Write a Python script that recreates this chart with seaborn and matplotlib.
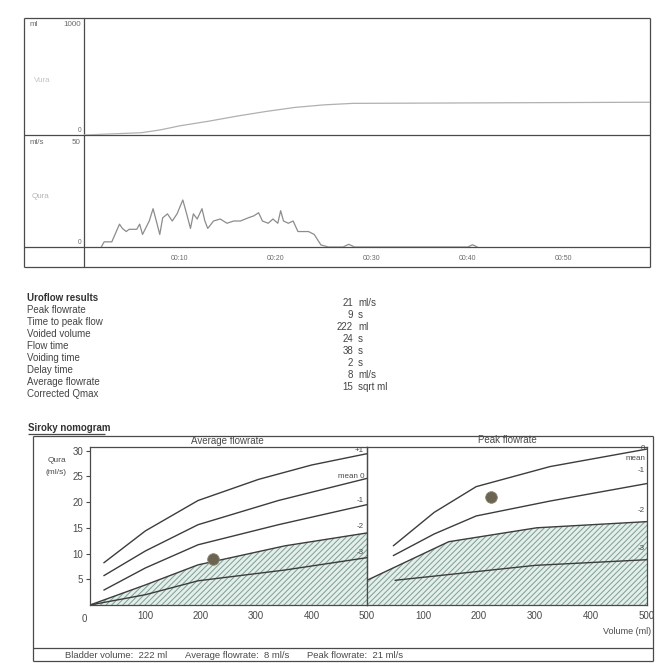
import numpy as np
import pandas as pd
import seaborn as sns
import matplotlib.pyplot as plt

sns.set_theme(style="white")
plt.rcParams['font.family'] = ['Liberation Sans', 'DejaVu Sans']

# uroflow trace, time (s) and flow (ml/s)
flow_t = [1.8, 2.1, 2.9, 3.7, 4.0, 4.4, 4.7, 5.5, 5.8, 6.1, 6.8, 7.2, 7.6, 7.9, 8.2, 8.7,
          9.2, 9.7, 10.3, 10.7, 11.1, 11.4, 11.8, 12.3, 12.6, 12.9, 13.5, 14.2, 14.9, 15.6,
          16.3, 17.1, 17.7, 18.2, 18.6, 19.2, 19.7, 20.2, 20.5, 20.8, 21.3, 21.8, 22.3,
          22.6, 23.4, 24.0, 24.7, 25.5, 27.0, 27.6, 28.2, 40.0, 40.5, 41.0]
flow_q = [0.0, 2.3, 2.3, 10.2, 8.3, 6.9, 7.9, 7.9, 10.2, 5.6, 11.6, 17.1, 10.6, 5.6, 13.0, 14.8,
          11.6, 14.8, 21.0, 14.8, 8.3, 14.8, 12.5, 17.1, 11.6, 8.3, 11.6, 12.5, 10.6, 11.6,
          11.6, 13.0, 13.9, 15.3, 11.6, 10.6, 12.5, 10.6, 16.2, 11.6, 10.6, 11.6, 6.9,
          6.9, 6.9, 5.6, 0.9, 0.0, 0.0, 1.2, 0.0, 0.0, 1.0, 0.0]

# voided volume trace (ml)
vol_t = [0, 6, 8, 10, 13, 16, 19, 22, 25, 28, 59]
vol_v = [0, 20, 45, 80, 120, 165, 205, 240, 262, 275, 285]

time_ticks = [10, 20, 30, 40, 50]
time_labels = ["00:10", "00:20", "00:30", "00:40", "00:50"]

result_names = ["Peak flowrate", "Time to peak flow", "Voided volume", "Flow time",
                "Voiding time", "Delay time", "Average flowrate", "Corrected Qmax"]
result_values = ["21", "9", "222", "24", "38", "2", "8", "15"]
result_units = ["ml/s", "s", "ml", "s", "s", "s", "ml/s", "sqrt ml"]

# Siroky nomogram - average flowrate panel
avg_vol_p1 = [25, 100, 195, 304, 400, 500]
avg_q_p1 = [8.2, 14.4, 20.3, 24.4, 27.2, 29.4]
avg_vol_0 = [25, 100, 195, 340, 500]
avg_q_0 = [5.7, 10.5, 15.6, 20.3, 24.6]
avg_vol_m1 = [25, 100, 195, 340, 500]
avg_q_m1 = [2.9, 7.2, 11.7, 15.6, 19.5]
avg_vol_m2 = [0, 100, 195, 352, 500]
avg_q_m2 = [0.0, 3.9, 7.8, 11.5, 14.0]
avg_vol_m3 = [0, 100, 195, 352, 500]
avg_q_m3 = [0.0, 2.0, 4.7, 6.8, 9.2]

# Siroky nomogram - peak flowrate panel
pk_vol_0 = [47, 120, 195, 327, 500]
pk_q_0 = [11.5, 18.0, 23.0, 26.9, 30.3]
pk_vol_m1 = [47, 120, 195, 327, 500]
pk_q_m1 = [9.6, 13.8, 17.3, 20.2, 23.6]
pk_vol_m2 = [0, 146, 303, 500]
pk_q_m2 = [4.8, 12.3, 15.0, 16.2]
pk_vol_m3 = [50, 300, 500]
pk_q_m3 = [4.8, 7.7, 8.8]

patient_vol = [222]
patient_avg = [9]
patient_peak = [21]

vol_ticks = [100, 200, 300, 400, 500]
q_ticks = [5, 10, 15, 20, 25, 30]

W = 663
fig = plt.figure(figsize=(6.63, 6.63), dpi=100)


def rect(l, t, r, b):
    return [l / W, 1 - b / W, (r - l) / W, (b - t) / W]


ink = "#4a4a4a"
soft = "#6a6a6a"


def overlay(z):
    ov = fig.add_axes([0, 0, 1, 1], zorder=z)
    ov.set_xlim(0, W)
    ov.set_ylim(W, 0)
    ov.axis("off")
    ov.patch.set_alpha(0)
    return ov


# page overlays in pixel coordinates, for frames and text
bg = overlay(-1)
fg = overlay(10)


def hline(y, x0, x1, c=ink, lw=0.9):
    bg.plot([x0, x1], [y, y], color=c, lw=lw, solid_capstyle="butt")


def vline(x, y0, y1, c=ink, lw=0.9):
    bg.plot([x, x], [y0, y1], color=c, lw=lw, solid_capstyle="butt")


# --- top recording frame
hline(18, 24, 650)
hline(267, 24, 650)
vline(24, 18, 267)
vline(650, 18, 267)
vline(84, 18, 267)
hline(135, 24, 650)
hline(247, 24, 650)

fs = 5.8
bg.text(30, 24, "ml", fontsize=fs, color=soft, va="center")
bg.text(81, 24, "1000", fontsize=fs, color=soft, va="center", ha="right")
bg.text(34, 80, "Vura", fontsize=fs, color="#c4c4c4", va="center")
bg.text(81, 131, "0", fontsize=fs - 1, color=soft, va="center", ha="right")
bg.text(30, 142, "ml/s", fontsize=fs, color=soft, va="center")
bg.text(81, 142, "50", fontsize=fs, color=soft, va="center", ha="right")
bg.text(32, 196, "Qura", fontsize=fs, color="#b4b4b4", va="center")
bg.text(81, 243, "0", fontsize=fs - 1, color=soft, va="center", ha="right")

ax_vol = fig.add_axes(rect(84, 20, 650, 135))
sns.lineplot(x=vol_t, y=vol_v, ax=ax_vol, color="#b0b0b0", lw=0.9)
ax_vol.set_xlim(0, 59)
ax_vol.set_ylim(0, 1000)
ax_vol.axis("off")

ax_flow = fig.add_axes(rect(84, 135, 650, 247))
sns.lineplot(x=flow_t, y=flow_q, ax=ax_flow, color="#8c8c8c", lw=0.9)
ax_flow.set_xlim(0, 59)
ax_flow.set_ylim(0, 50)
ax_flow.set_xticks(time_ticks)
ax_flow.set_xticklabels(time_labels, fontsize=5, color=soft)
ax_flow.set_yticks([])
ax_flow.tick_params(axis="x", length=0, pad=6)
for s in ax_flow.spines.values():
    s.set_visible(False)
ax_flow.patch.set_alpha(0)
ax_vol.patch.set_alpha(0)

# --- results block
rfs = 7
bg.text(27, 298, "Uroflow results", fontsize=rfs, color="#333333",
        fontweight="bold", va="center")
for i, name in enumerate(result_names):
    bg.text(27, 310 + 12 * i, name, fontsize=rfs, color="#444444", va="center")
for i, (v, u) in enumerate(zip(result_values, result_units)):
    bg.text(353, 303 + 12 * i, v, fontsize=rfs, color="#444444", va="center", ha="right")
    bg.text(358, 303 + 12 * i, u, fontsize=rfs, color="#444444", va="center")

# --- Siroky nomogram frame
nfs = 7
bg.text(28, 428, "Siroky nomogram", fontsize=rfs, color="#333333",
        fontweight="bold", va="center")
hline(434, 28, 105)
hline(436, 33, 653)
hline(661, 33, 653)
vline(33, 436, 661)
vline(653, 436, 661)
hline(648, 33, 653)
bg.text(48, 461, "Qura", fontsize=6, color=ink, va="center")
bg.text(45, 472, "(ml/s)", fontsize=6, color=ink, va="center")
fg.text(227, 441, "Average flowrate", fontsize=nfs, color=ink, va="center", ha="center")
fg.text(507, 440, "Peak flowrate", fontsize=nfs, color=ink, va="center", ha="center")
bg.text(84, 619, "0", fontsize=nfs, color=ink, va="center", ha="center")
bg.text(651, 632, "Volume (ml)", fontsize=6.5, color=ink, va="center", ha="right")
bg.text(65, 656, "Bladder volume:  222 ml", fontsize=6.8, color=ink, va="center")
bg.text(185, 656, "Average flowrate:  8 ml/s", fontsize=6.8, color=ink, va="center")
bg.text(307, 655, "Peak flowrate:  21 ml/s", fontsize=6.8, color=ink, va="center")

hatch_col = "#7f9c95"
plt.rcParams['hatch.color'] = hatch_col
plt.rcParams['hatch.linewidth'] = 0.7


def nomo_axes(l, r):
    ax = fig.add_axes(rect(l, 447, r, 605))
    ax.set_xlim(0, 500)
    ax.set_ylim(0, 30.7)
    ax.patch.set_alpha(0)
    for s in ax.spines.values():
        s.set_color(ink)
        s.set_linewidth(0.9)
    ax.set_xticks(vol_ticks)
    ax.tick_params(axis="x", direction="in", length=4, width=0.8, color=ink,
                   labelsize=nfs, labelcolor=ink, pad=4)
    ax.set_xlabel("")
    ax.set_ylabel("")
    return ax


ax_avg = nomo_axes(90, 367)
ax_avg.fill_between(avg_vol_m2, 0, avg_q_m2, facecolor="#e3efea", edgecolor=hatch_col,
                    hatch="//////", lw=0)
for xv, yv in [(avg_vol_p1, avg_q_p1), (avg_vol_0, avg_q_0), (avg_vol_m1, avg_q_m1),
               (avg_vol_m2, avg_q_m2), (avg_vol_m3, avg_q_m3)]:
    sns.lineplot(x=xv, y=yv, ax=ax_avg, color="#3c3c3c", lw=1.0)
sns.scatterplot(x=patient_vol, y=patient_avg, ax=ax_avg, s=70, color="#6b6450",
                edgecolor="#8a8470", linewidth=0.6, zorder=5)
ax_avg.set_yticks(q_ticks)
ax_avg.set_yticklabels([str(q) for q in q_ticks])
ax_avg.tick_params(axis="y", direction="out", left=True, length=3, width=0.8, color=ink,
                   labelsize=nfs, labelcolor=ink, pad=2)
ax_avg.set_xticklabels([str(v) for v in vol_ticks])

ax_pk = nomo_axes(367, 647)
ax_pk.fill_between(pk_vol_m2, 0, pk_q_m2, facecolor="#e3efea", edgecolor=hatch_col,
                   hatch="//////", lw=0)
for xv, yv in [(pk_vol_0, pk_q_0), (pk_vol_m1, pk_q_m1), (pk_vol_m2, pk_q_m2),
               (pk_vol_m3, pk_q_m3)]:
    sns.lineplot(x=xv, y=yv, ax=ax_pk, color="#3c3c3c", lw=1.0)
sns.scatterplot(x=patient_vol, y=patient_peak, ax=ax_pk, s=70, color="#6b6450",
                edgecolor="#8a8470", linewidth=0.6, zorder=5)
ax_pk.set_yticks([])
ax_pk.set_xticklabels([str(v) for v in vol_ticks])

# curve labels (standard deviations)
lf = 5.8
fg.text(364, 450, "+1", fontsize=lf, color=ink, va="center", ha="right")
fg.text(364, 476, "mean 0", fontsize=lf, color=ink, va="center", ha="right")
fg.text(364, 500, "-1", fontsize=lf, color=ink, va="center", ha="right")
fg.text(364, 526, "-2", fontsize=lf, color=ink, va="center", ha="right")
fg.text(364, 553, "-3", fontsize=lf, color=ink, va="center", ha="right")
fg.text(645, 449, "0", fontsize=lf, color=ink, va="center", ha="right")
fg.text(645, 459, "mean", fontsize=lf, color=ink, va="center", ha="right")
fg.text(645, 470, "-1", fontsize=lf, color=ink, va="center", ha="right")
fg.text(645, 510, "-2", fontsize=lf, color=ink, va="center", ha="right")
fg.text(645, 548, "-3", fontsize=lf, color=ink, va="center", ha="right")

fig.savefig("out.png", dpi=100, facecolor="white")
